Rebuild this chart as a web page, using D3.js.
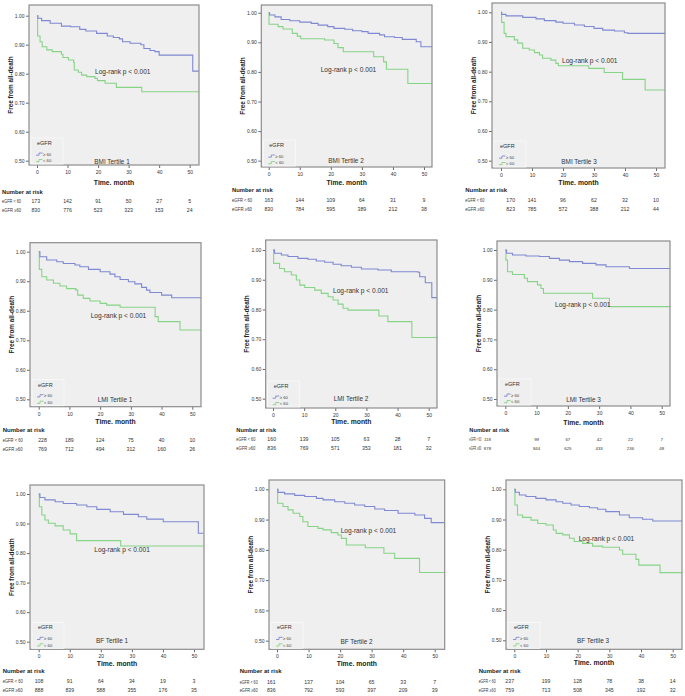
<!DOCTYPE html>
<html><head><meta charset="utf-8">
<script src="https://cdn.jsdelivr.net/npm/d3@7"></script>
<style>html,body{margin:0;padding:0;background:#fff;}svg{display:block;font-family:"Liberation Sans",Arial,sans-serif;}</style>
</head><body>
<script>
// ---------------- DATA ----------------
const panelTitles = ["BMI Tertile 1","BMI Tertile 2","BMI Tertile 3","LMI Tertile 1","LMI Tertile 2","LMI Tertile 3","BF Tertile 1","BF Tertile 2","BF Tertile 3"];
const logRankText = "Log-rank p < 0.001";
const legendTitle = "eGFR";
const legendLabels = ["≥ 60", "< 60"];
const riskTitle = "Number at risk";
const riskRowLabels = ["eGFR < 60", "eGFR ≥60"];
const timeTicks = [0,10,20,30,40,50];
const survTicks = [0.5,0.6,0.7,0.8,0.9,1.0];
const xTitle = "Time. month";
const yTitle = "Free from all-death";

// Kaplan–Meier step points [month, survival]
const bmi1High = [[0,1],[0.3,0.991],[1.5,0.983],[4.3,0.974],[8,0.964],[11,0.962],[14,0.953],[16,0.947],[19.5,0.939],[23,0.93],[25,0.925],[27,0.92],[28,0.91],[30.5,0.905],[34,0.9],[35,0.887],[37,0.88],[38.6,0.876],[40,0.864],[51,0.809],[53,0.809]];
const bmi1Low  = [[0,1],[0.2,0.93],[1,0.91],[1.7,0.893],[3.2,0.882],[5,0.876],[8,0.867],[8.5,0.856],[10.3,0.847],[12,0.839],[12.2,0.813],[13.5,0.805],[14.6,0.795],[16.3,0.79],[19,0.784],[19.8,0.776],[22.3,0.767],[26,0.753],[34.3,0.738],[53,0.738]];
const bmi2High = [[0,1],[0.3,0.992],[2,0.986],[4,0.977],[6.8,0.973],[10,0.968],[13.7,0.964],[15.9,0.958],[19,0.953],[21,0.947],[24.5,0.944],[27,0.939],[30,0.936],[32,0.93],[35.7,0.925],[37.3,0.919],[40.5,0.916],[43,0.91],[47.5,0.902],[49,0.885],[53,0.885]];
const bmi2Low  = [[0,1],[0.1,0.961],[3,0.953],[4.6,0.945],[7.6,0.93],[9.2,0.921],[10.3,0.912],[18,0.908],[21,0.896],[22.3,0.882],[24,0.868],[33.8,0.851],[37,0.834],[37.9,0.809],[44.8,0.761],[53,0.761]];
const bmi3High = [[0,1],[0.2,0.993],[1.6,0.988],[7,0.983],[11.3,0.978],[14,0.972],[17.7,0.967],[20,0.963],[23.7,0.957],[26.9,0.952],[30,0.946],[32.8,0.94],[36.6,0.937],[39.8,0.931],[40.9,0.929],[53,0.929]];
const bmi3Low  = [[0,1],[0.2,0.966],[1,0.929],[1.6,0.918],[4.3,0.907],[5.4,0.896],[7,0.879],[9.1,0.873],[10.8,0.864],[12.4,0.856],[13.4,0.845],[16.1,0.839],[17.7,0.828],[18.5,0.82],[28.3,0.811],[33.3,0.797],[39.2,0.774],[46.5,0.738],[53,0.738]];
const lmi1High = [[0,1],[0.4,0.983],[2.6,0.972],[5.9,0.966],[8,0.96],[11.8,0.955],[13.4,0.949],[16.2,0.94],[20,0.932],[23.2,0.924],[24.8,0.915],[26.5,0.906],[29.2,0.898],[31.3,0.891],[33.5,0.879],[35.1,0.87],[36.2,0.862],[40,0.853],[43.3,0.844],[53,0.844]];
const lmi1Low  = [[0,1],[0.2,0.94],[1,0.915],[2.6,0.904],[4.8,0.893],[6.9,0.884],[9.1,0.875],[12.1,0.87],[12.7,0.853],[14.5,0.842],[16.7,0.833],[20,0.825],[22.1,0.819],[26.5,0.812],[37.9,0.78],[38.9,0.763],[46,0.735],[53,0.735]];
const lmi2High = [[0,1],[0.5,0.989],[2.7,0.983],[4.8,0.978],[8,0.972],[11.2,0.969],[13.9,0.963],[16.6,0.959],[19.3,0.952],[21.9,0.947],[25.2,0.942],[28.4,0.936],[33.7,0.933],[38,0.927],[46.6,0.925],[47.1,0.91],[48.9,0.89],[51,0.84],[53,0.84]];
const lmi2Low  = [[0,1],[0.2,0.955],[2.1,0.938],[3.7,0.927],[5.9,0.916],[7.5,0.899],[8.6,0.882],[10.2,0.874],[13.4,0.865],[15.5,0.854],[17.7,0.843],[19.3,0.832],[20.9,0.818],[22.5,0.804],[24.1,0.798],[34,0.778],[36.9,0.759],[44.6,0.706],[53,0.706]];
const lmi3High = [[0,1],[0.4,0.989],[2.3,0.983],[6.6,0.98],[10.9,0.978],[14.1,0.972],[17.3,0.966],[20.5,0.961],[24.7,0.955],[29,0.95],[32.2,0.944],[39.7,0.938],[53,0.938]];
const lmi3Low  = [[0,1],[0.2,0.966],[0.7,0.927],[2.3,0.918],[6.1,0.905],[7.1,0.894],[10.3,0.883],[11.4,0.871],[12.2,0.855],[27.9,0.838],[33.3,0.81],[53,0.81]];
const bf1High  = [[0,1],[0.4,0.988],[2,0.98],[5.3,0.974],[7.9,0.968],[12.2,0.963],[15.5,0.957],[18.7,0.948],[23,0.94],[27.3,0.931],[32.1,0.923],[34.8,0.915],[40.1,0.906],[51.4,0.867],[53,0.867]];
const bf1Low   = [[0,1],[0.2,0.957],[1,0.929],[2,0.912],[3.1,0.901],[5.3,0.892],[7.9,0.878],[10.1,0.865],[12.2,0.842],[26.4,0.824],[53,0.824]];
const bf2High  = [[0,1],[0.3,0.99],[2.4,0.985],[5.6,0.98],[8.8,0.976],[12.5,0.97],[14.6,0.965],[18.3,0.959],[21.5,0.954],[24.6,0.948],[27.8,0.943],[31,0.935],[34.1,0.93],[38.4,0.921],[43.7,0.915],[46.8,0.904],[48.9,0.89],[53,0.89]];
const bf2Low   = [[0,1],[0.2,0.954],[1.9,0.943],[3.5,0.932],[5.1,0.921],[7.2,0.91],[8.2,0.893],[9.8,0.877],[13,0.871],[14.6,0.866],[17.2,0.857],[19.3,0.849],[20.4,0.838],[22,0.816],[28,0.807],[33.9,0.789],[37.3,0.772],[45.2,0.725],[53,0.725]];
const bf3High  = [[0,1],[0.3,0.99],[1.6,0.981],[3.7,0.976],[6.8,0.97],[10,0.965],[13.2,0.959],[15.3,0.954],[17.9,0.948],[20.5,0.943],[23.7,0.939],[26.3,0.934],[28.9,0.926],[33.2,0.915],[36.3,0.906],[40.5,0.901],[43.7,0.895],[53,0.895]];
const bf3Low   = [[0,1],[0.2,0.948],[1,0.915],[2.6,0.907],[5.3,0.898],[7.4,0.887],[10,0.882],[12.3,0.865],[13.2,0.854],[15.3,0.849],[17.4,0.838],[18.9,0.827],[21.6,0.821],[24.7,0.812],[27.9,0.808],[33.2,0.799],[34.2,0.785],[38.4,0.768],[39.3,0.749],[46,0.724],[53,0.724]];

const curvesHigh = [bmi1High,bmi2High,bmi3High,lmi1High,lmi2High,lmi3High,bf1High,bf2High,bf3High];
const curvesLow  = [bmi1Low,bmi2Low,bmi3Low,lmi1Low,lmi2Low,lmi3Low,bf1Low,bf2Low,bf3Low];

// Numbers at risk at 0,10,20,30,40,50 months
const riskLow  = [[173,142,91,50,27,5],[163,144,109,64,31,9],[170,141,96,62,32,10],[228,189,124,75,40,10],[160,139,105,63,28,7],[118,99,67,42,22,7],[108,91,64,34,19,3],[161,137,104,65,33,7],[237,199,128,78,38,14]];
const riskHigh = [[830,776,523,323,153,24],[830,784,595,389,212,38],[823,785,572,388,212,44],[769,712,494,312,160,26],[836,769,571,353,181,32],[878,844,625,433,236,48],[888,839,588,355,176,35],[836,792,593,397,209,39],[759,713,508,345,192,32]];

// ---------------- LAYOUT ----------------
const layout = [
 {L:29,T:5,R:199,B:165,x0:37,x50:189.7,y100:15.7,y50:160.7,title:183,nar:192,r1:201,r2:210,lab:2,c0:35.8,labW:19,narW:41,nfs:5.2,lr:[95,72],tt:[112,161.3]},
 {L:261.3,T:5,R:432,B:167,x0:268.7,x50:424,y100:12.7,y50:160.7,title:183,nar:190,r1:200,r2:209,lab:232,c0:268.8,labW:20,narW:41,nfs:5.2,lr:[320.7,70],tt:[346,160.7]},
 {L:492,T:3,R:665,B:168,x0:501,x50:656,y100:12.3,y50:160.7,title:183,nar:190,r1:200,r2:209,lab:465.3,c0:510.7,labW:19,narW:42,nfs:5.2,lr:[562,61],tt:[579,161.3]},
 {L:30,T:242.7,R:201,B:406.7,x0:38.7,x50:192.3,y100:251.7,y50:399.3,title:422,nar:430,r1:440,r2:449,lab:2.7,c0:42.5,labW:20,narW:42,nfs:5.2,lr:[90.7,315.7],tt:[115,400]},
 {L:265.7,T:240,R:437,B:408,x0:273,x50:428.7,y100:250,y50:398.7,title:421.7,nar:430,r1:439,r2:448,lab:236.3,c0:271.7,labW:19,narW:40,nfs:5.2,lr:[333,291],tt:[351,398.3]},
 {L:497,T:241,R:670,B:406,x0:505.3,x50:661.7,y100:250,y50:399,title:422.7,nar:430,r1:439.3,r2:448.3,lab:469.3,c0:487.5,labW:12,narW:40,nfs:4.4,lr:[555,305],tt:[583.5,399.3]},
 {L:30,T:485,R:204,B:649.3,x0:38.7,x50:194,y100:494,y50:641.7,title:664,nar:671,r1:680.7,r2:690,lab:2.7,c0:39,labW:20,narW:42,nfs:5.2,lr:[94.3,550],tt:[112,640.7]},
 {L:269,T:480,R:444.7,B:649.3,x0:277,x50:434.7,y100:489.3,y50:640.7,title:663.3,nar:671,r1:681.7,r2:690,lab:239.7,c0:271.3,labW:18,narW:42,nfs:5.2,lr:[340.7,531],tt:[356.5,641.7]},
 {L:506,T:480,R:682,B:649.3,x0:514.3,x50:672.7,y100:489.3,y50:640.3,title:663,nar:671,r1:681.3,r2:690,lab:478.7,c0:509.7,labW:17,narW:42,nfs:5.2,lr:[578.7,538.3],tt:[593,641]}
];

const W = 685, H = 696;
const colHigh = "#7f88d2", colLow = "#86d486";
const svg = d3.select("body").append("svg").attr("width",W).attr("height",H);
svg.append("rect").attr("width",W).attr("height",H).attr("fill","#fff");

// text squeezed horizontally to a target width
function squeezed(parent, str, x0, y0, width, fs, weight) {
  const t = parent.append("text").attr("x",0).attr("y",0).attr("dy","0.35em")
    .attr("font-size",fs).attr("font-weight",weight).attr("fill", weight==="bold" ? "#222" : "#333").text(str);
  const len = t.node().getComputedTextLength() || width;
  t.attr("transform",`translate(${x0},${y0}) scale(${Math.min(1,width/len)},1)`);
  return t;
}

layout.forEach((p,i) => {
  const g = svg.append("g");
  const x = d3.scaleLinear().domain([0,50]).range([p.x0,p.x50]);
  const y = d3.scaleLinear().domain([0.5,1]).range([p.y50,p.y100]);
  const clipId = "clip"+i;
  svg.append("clipPath").attr("id",clipId).append("rect")
    .attr("x",p.L).attr("y",p.T).attr("width",p.R-p.L).attr("height",p.B-p.T);

  g.append("rect").attr("x",p.L).attr("y",p.T).attr("width",p.R-p.L).attr("height",p.B-p.T)
    .attr("fill","#efefef");

  // axes
  const ay = g.append("g").attr("transform",`translate(${p.L},0)`)
    .call(d3.axisLeft(y).tickValues(survTicks).tickFormat(d3.format(".2f")).tickSize(3).tickPadding(1.5));
  const ax = g.append("g").attr("transform",`translate(0,${p.B})`)
    .call(d3.axisBottom(x).tickValues(timeTicks).tickFormat(d3.format("d")).tickSize(3).tickPadding(2.5));
  [ay,ax].forEach(a => {
    a.select(".domain").remove();
    a.selectAll("line").attr("stroke","#444").attr("stroke-width",0.8);
    a.selectAll("text").attr("font-size",5).attr("fill","#333");
  });

  // curves
  const line = d3.line().x(d=>x(d[0])).y(d=>y(d[1])).curve(d3.curveStepAfter);
  const cg = g.append("g").attr("clip-path",`url(#${clipId})`);
  cg.append("path").datum(curvesLow[i]).attr("d",line).attr("fill","none")
    .attr("stroke",colLow).attr("stroke-width",1.1);
  cg.append("path").datum(curvesHigh[i]).attr("d",line).attr("fill","none")
    .attr("stroke",colHigh).attr("stroke-width",1.1);

  // frame
  g.append("rect").attr("x",p.L).attr("y",p.T).attr("width",p.R-p.L).attr("height",p.B-p.T)
    .attr("fill","none").attr("stroke","#8c8c8c").attr("stroke-width",1.2);

  // legend
  const lg = g.append("g").attr("transform",`translate(${p.L+2},${p.B-27})`);
  lg.append("rect").attr("width",32).attr("height",26).attr("fill","none")
    .attr("stroke","#fbfbfb").attr("stroke-width",0.8);
  lg.append("text").attr("x",6).attr("y",7).attr("font-size",5.5).attr("fill","#333").text(legendTitle);
  [colHigh,colLow].forEach((c,k) => {
    const yy = 16 + k*6.5;
    lg.append("path").attr("d",`M5,${yy+1.2}H8V${yy-1}H11.5`).attr("fill","none")
      .attr("stroke",c).attr("stroke-width",0.9);
    lg.append("text").attr("x",12).attr("y",yy+1.8).attr("font-size",4.2).attr("fill","#444").text(legendLabels[k]);
  });

  // annotations
  g.append("text").attr("x",p.lr[0]).attr("y",p.lr[1]).attr("dy","0.35em")
    .attr("font-size",6.6).attr("fill","#333").text(logRankText);
  g.append("text").attr("x",p.tt[0]).attr("y",p.tt[1]).attr("dy","0.35em").attr("text-anchor","middle")
    .attr("font-size",6.4).attr("fill","#333").text(panelTitles[i]);

  // axis titles
  g.append("text").attr("x",(p.L+p.R)/2).attr("y",p.title).attr("dy","0.35em").attr("text-anchor","middle")
    .attr("font-size",6.8).attr("font-weight","bold").attr("fill","#222").text(xTitle);
  g.append("text").attr("transform",`translate(${p.L-18.5},${(p.T+p.B)/2}) rotate(-90)`)
    .attr("dy","0.35em").attr("text-anchor","middle")
    .attr("font-size",6.4).attr("font-weight","bold").attr("fill","#222").text(yTitle);

  // risk table
  squeezed(g, riskTitle, p.lab, p.nar, p.narW, 6, "bold");
  [[riskLow[i],p.r1],[riskHigh[i],p.r2]].forEach(([vals,yy],k) => {
    squeezed(g, riskRowLabels[k], p.lab, yy, p.labW, Math.min(5.2,p.nfs+0.3), "normal");
    vals.forEach((v,j) => {
      g.append("text").attr("x", j===0 ? p.c0 : x(timeTicks[j])).attr("y",yy).attr("dy","0.35em")
        .attr("text-anchor","middle").attr("font-size",p.nfs).attr("fill","#333").text(v);
    });
  });
});
</script>
</body></html>
